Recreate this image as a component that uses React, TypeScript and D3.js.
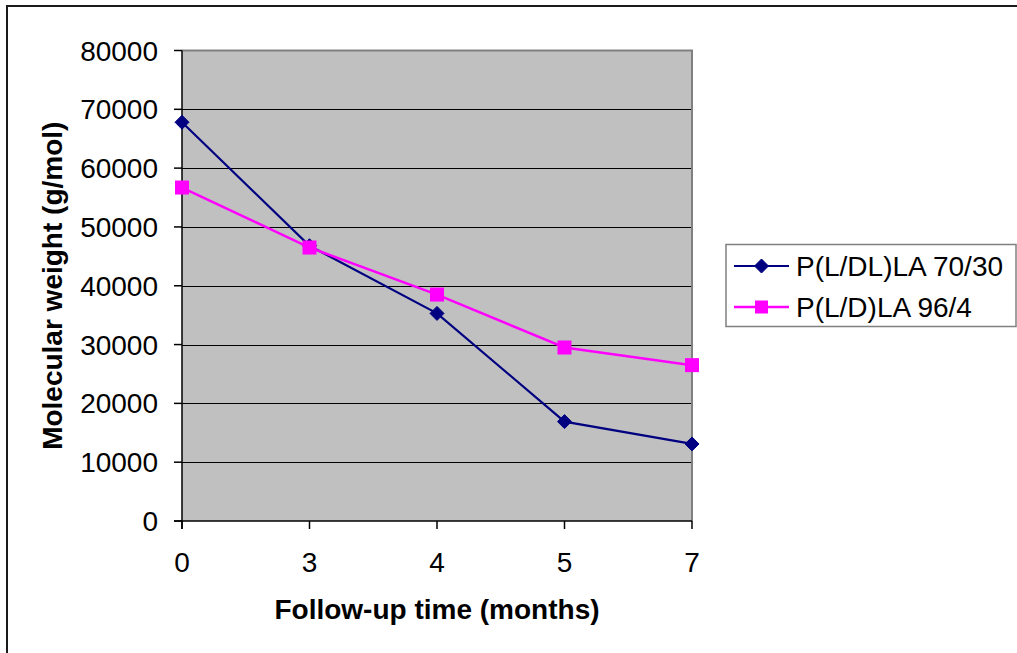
import React from "react";
import * as d3 from "d3";

// Follow-up months (category axis) and molecular weights per polymer
const months = ["0", "3", "4", "5", "7"];
const pldlla7030 = [67800, 46800, 35300, 16900, 13100];
const pldla964 = [56700, 46500, 38500, 29500, 26500];
const yTicks = [0, 10000, 20000, 30000, 40000, 50000, 60000, 70000, 80000];
const seriesNames = ["P(L/DL)LA 70/30", "P(L/D)LA 96/4"];

const W = 1017;
const H = 653;
const FONT = "'Liberation Sans', Arial, Helvetica, sans-serif";
const NAVY = "#000080";
const MAGENTA = "#FF00FF";

const plot = { left: 182, right: 692, top: 50.5, bottom: 521 };

function Diamond({ cx, cy, r }: { cx: number; cy: number; r: number }) {
  return (
    <path
      d={`M${cx},${cy - r}L${cx + r},${cy}L${cx},${cy + r}L${cx - r},${cy}Z`}
      fill={NAVY}
      stroke={NAVY}
      strokeWidth={1}
    />
  );
}

function Square({ cx, cy, s }: { cx: number; cy: number; s: number }) {
  return <rect x={cx - s / 2} y={cy - s / 2} width={s} height={s} fill={MAGENTA} />;
}

export default function App() {
  const x = d3.scalePoint<string>().domain(months).range([plot.left, plot.right]).padding(0);
  const y = d3.scaleLinear().domain([0, 80000]).range([plot.bottom, plot.top]);

  const line = d3
    .line<number>()
    .x((_, i) => x(months[i]) as number)
    .y((d) => y(d));

  return (
    <svg
      width={W}
      height={H}
      viewBox={`0 0 ${W} ${H}`}
      style={{ position: "absolute", left: 0, top: 0, background: "#fff" }}
      fontFamily={FONT}
    >
      {/* outer chart frame, running off the right and bottom edges */}
      <rect x={7} y={6} width={W + 20} height={H + 20} fill="#fff" stroke="#1a1a1a" strokeWidth={2} />

      {/* plot area */}
      <rect
        x={plot.left}
        y={plot.top}
        width={plot.right - plot.left}
        height={plot.bottom - plot.top}
        fill="#C0C0C0"
      />

      {/* horizontal gridlines */}
      {yTicks
        .filter((t) => t > 0 && t < 80000)
        .map((t) => (
          <line
            key={`g${t}`}
            x1={plot.left}
            x2={plot.right}
            y1={Math.round(y(t)) + 0.5}
            y2={Math.round(y(t)) + 0.5}
            stroke="#000"
            strokeWidth={1}
          />
        ))}

      {/* plot border: top and right in gray */}
      <line x1={plot.left} x2={plot.right + 1} y1={plot.top} y2={plot.top} stroke="#808080" strokeWidth={2} />
      <line x1={plot.right} x2={plot.right} y1={plot.top} y2={plot.bottom} stroke="#808080" strokeWidth={2} />

      {/* axes */}
      <line x1={plot.left} x2={plot.left} y1={plot.top} y2={plot.bottom + 8} stroke="#000" strokeWidth={1.5} />
      <line x1={plot.left - 8} x2={plot.right} y1={plot.bottom} y2={plot.bottom} stroke="#000" strokeWidth={1.5} />

      {/* y ticks and labels */}
      {yTicks.map((t) => (
        <g key={`y${t}`}>
          <line
            x1={plot.left - 8}
            x2={plot.left}
            y1={y(t)}
            y2={y(t)}
            stroke="#000"
            strokeWidth={1.5}
          />
          <text x={158} y={y(t)} dy="0.36em" textAnchor="end" fontSize={28} fill="#000">
            {t}
          </text>
        </g>
      ))}

      {/* x ticks and labels */}
      {months.map((m) => (
        <g key={`x${m}`}>
          <line
            x1={x(m) as number}
            x2={x(m) as number}
            y1={plot.bottom}
            y2={plot.bottom + 8}
            stroke="#000"
            strokeWidth={1.5}
          />
          <text x={x(m) as number} y={572} textAnchor="middle" fontSize={28} fill="#000">
            {m}
          </text>
        </g>
      ))}

      {/* axis titles */}
      <text
        x={(plot.left + plot.right) / 2}
        y={619}
        textAnchor="middle"
        fontSize={28}
        fontWeight="bold"
        fill="#000"
      >
        Follow-up time (months)
      </text>
      <text
        transform={`translate(62, ${(plot.top + plot.bottom) / 2}) rotate(-90)`}
        textAnchor="middle"
        fontSize={28}
        fontWeight="bold"
        fill="#000"
      >
        Molecular weight (g/mol)
      </text>

      {/* series lines and markers */}
      <path d={line(pldlla7030) ?? ""} fill="none" stroke={NAVY} strokeWidth={2.2} />
      {pldlla7030.map((v, i) => (
        <Diamond key={`a${i}`} cx={x(months[i]) as number} cy={y(v)} r={7} />
      ))}
      <path d={line(pldla964) ?? ""} fill="none" stroke={MAGENTA} strokeWidth={2.5} />
      {pldla964.map((v, i) => (
        <Square key={`b${i}`} cx={x(months[i]) as number} cy={y(v)} s={14} />
      ))}

      {/* legend */}
      <rect x={726} y={244.5} width={290} height={82} fill="#fff" stroke="#808080" strokeWidth={1.5} />
      <line x1={734} x2={789} y1={266} y2={266} stroke={NAVY} strokeWidth={2.2} />
      <Diamond cx={761.5} cy={266} r={7} />
      <text x={796} y={266} dy="0.36em" fontSize={28} fill="#000">
        {seriesNames[0]}
      </text>
      <line x1={734} x2={789} y1={307} y2={307} stroke={MAGENTA} strokeWidth={2.5} />
      <Square cx={761.5} cy={307} s={13} />
      <text x={796} y={307} dy="0.36em" fontSize={28} fill="#000">
        {seriesNames[1]}
      </text>
    </svg>
  );
}
